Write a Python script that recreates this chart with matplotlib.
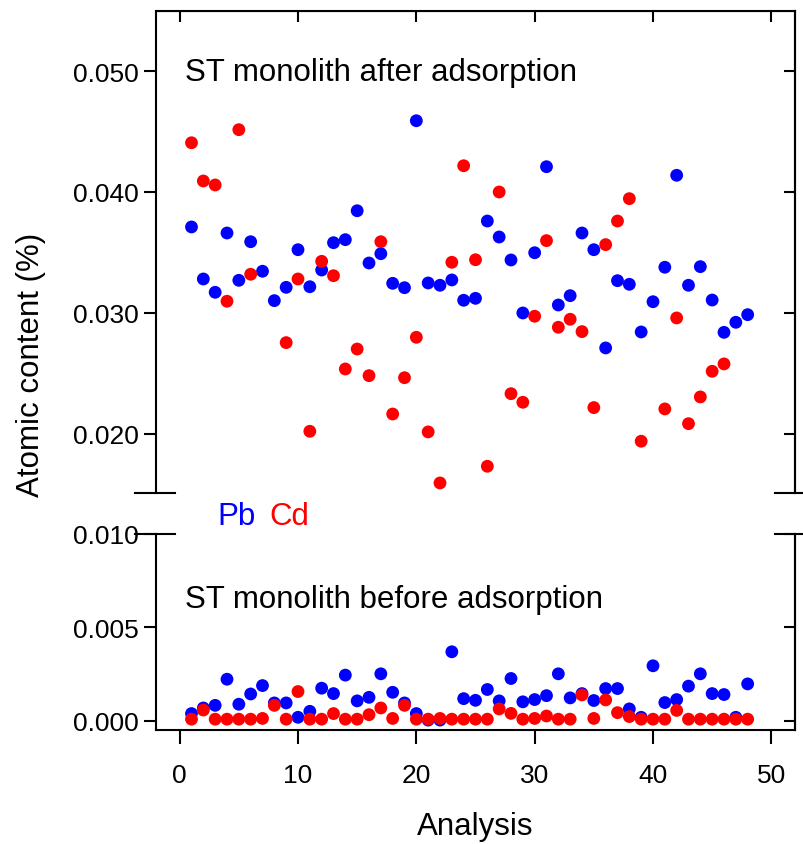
import numpy as np
import matplotlib
matplotlib.use("Agg")
import matplotlib.pyplot as plt
from matplotlib.lines import Line2D

plt.rcParams["font.family"] = ["Liberation Sans", "DejaVu Sans"]

analysis = np.arange(1, 49)

pb_after = [0.03711, 0.03281, 0.03171, 0.03661, 0.03270, 0.03589, 0.03345, 0.03102,
            0.03212, 0.03523, 0.03217, 0.03355, 0.03581, 0.03606, 0.03845, 0.03413,
            0.03490, 0.03245, 0.03209, 0.04589, 0.03248, 0.03229, 0.03273, 0.03105,
            0.03121, 0.03760, 0.03628, 0.03438, 0.03000, 0.03498, 0.04209, 0.03066,
            0.03143, 0.03661, 0.03523, 0.02711, 0.03267, 0.03237, 0.02843, 0.03093,
            0.03378, 0.04138, 0.03229, 0.03383, 0.03107, 0.02840, 0.02923, 0.02986]

cd_after = [0.04407, 0.04091, 0.04058, 0.03097, 0.04515, 0.03320, np.nan, np.nan,
            0.02755, 0.03281, 0.02022, 0.03427, 0.03308, 0.02537, 0.02702, 0.02482,
            0.03589, 0.02165, 0.02465, 0.02799, 0.02017, 0.01595, 0.03419, 0.04217,
            0.03440, 0.01733, 0.04000, 0.02333, 0.02262, 0.02973, 0.03598, 0.02882,
            0.02948, 0.02846, 0.02218, 0.03565, 0.03760, 0.03945, 0.01940, np.nan,
            0.02207, 0.02959, 0.02085, 0.02306, 0.02518, 0.02579, np.nan, np.nan]

pb_before = [0.00038, 0.00068, 0.00082, 0.00222, 0.00088, 0.00143, 0.00188, 0.00095,
             0.00095, 0.00018, 0.00050, 0.00174, 0.00145, 0.00244, 0.00106, 0.00125,
             0.00251, 0.00152, 0.00095, 0.00038, 0.00003, 0.00003, 0.00369, 0.00118,
             0.00109, 0.00167, 0.00106, 0.00226, 0.00101, 0.00113, 0.00134, 0.00251,
             0.00122, 0.00145, 0.00108, 0.00172, 0.00172, 0.00063, 0.00018, 0.00294,
             0.00097, 0.00113, 0.00185, 0.00251, 0.00145, 0.00140, 0.00018, 0.00197]

cd_before = [0.00008, 0.00057, 0.00008, 0.00008, 0.00008, 0.00008, 0.00012, 0.00082,
             0.00008, 0.00156, 0.00008, 0.00008, 0.00038, 0.00008, 0.00008, 0.00032,
             0.00068, 0.00012, 0.00082, 0.00008, 0.00008, 0.00012, 0.00008, 0.00008,
             0.00008, 0.00008, 0.00063, 0.00039, 0.00008, 0.00012, 0.00025, 0.00008,
             0.00008, 0.00138, 0.00012, 0.00111, 0.00043, 0.00022, 0.00008, 0.00008,
             0.00008, 0.00055, 0.00008, 0.00008, 0.00008, 0.00008, 0.00008, 0.00008]

W, H = 804, 845
fig = plt.figure(figsize=(W / 100, H / 100), dpi=100)

left, right = 156 / W, 795 / W
ax_top = fig.add_axes([left, 1 - 494 / H, right - left, (494 - 12) / H])
ax_bot = fig.add_axes([left, 1 - 731 / H, right - left, (731 - 535) / H])

msize = 85
lw = 1.5
tick_fs = 19
for ax in (ax_top, ax_bot):
    for s in ax.spines.values():
        s.set_linewidth(lw)
    ax.set_xlim(-2, 52)
    ax.set_xticks([0, 10, 20, 30, 40, 50])

ax_top.scatter(analysis, pb_after, s=msize, color="#0000ff", edgecolors="none", zorder=3)
ax_top.scatter(analysis, cd_after, s=msize, color="#ff0000", edgecolors="none", zorder=4)
ax_bot.scatter(analysis, pb_before, s=msize, color="#0000ff", edgecolors="none", zorder=3)
ax_bot.scatter(analysis, cd_before, s=msize, color="#ff0000", edgecolors="none", zorder=4)

# top panel
ax_top.set_ylim(0.01512, 0.05496)
ax_top.set_yticks([0.020, 0.030, 0.040, 0.050])
ax_top.set_yticklabels(["0.020", "0.030", "0.040", "0.050"])
ax_top.spines["bottom"].set_visible(False)
ax_top.tick_params(axis="y", which="both", left=True, right=False, direction="out",
                   length=8.6, width=lw, labelsize=tick_fs, pad=4)
ax_top.tick_params(axis="x", bottom=False, labelbottom=False, top=False)
ax_top.secondary_xaxis("top").tick_params(direction="in", length=8, width=lw, labeltop=False)
sec = ax_top.secondary_yaxis("right")
sec.set_yticks([0.020, 0.030, 0.040, 0.050])
sec.tick_params(direction="in", length=8, width=lw, labelright=False)
sec.spines["right"].set_linewidth(lw)

# bottom panel
ax_bot.set_ylim(-0.0005, 0.010)
ax_bot.set_yticks([0.000, 0.005, 0.010])
ax_bot.set_yticklabels(["0.000", "0.005", "0.010"])
ax_bot.spines["top"].set_visible(False)
ax_bot.tick_params(axis="y", left=True, right=False, direction="out",
                   length=8.6, width=lw, labelsize=tick_fs, pad=4)
ax_bot.tick_params(axis="x", direction="out", length=10, width=lw, labelsize=tick_fs, pad=14)
sec2 = ax_bot.secondary_yaxis("right")
sec2.set_yticks([0.000, 0.005, 0.010])
sec2.tick_params(direction="in", length=8, width=lw, labelright=False)
sec2.spines["right"].set_linewidth(lw)

# break marks
for yb in (494, 535):
    for xc in (155.5, 795):
        fig.add_artist(Line2D([(xc - 20) / W, (xc + 20) / W], [1 - yb / H, 1 - yb / H],
                              color="black", lw=lw, transform=fig.transFigure))

fig.text(185 / W, 1 - 73 / H, "ST monolith after adsorption", fontsize=22.5, va="center")
fig.text(185 / W, 1 - 600 / H, "ST monolith before adsorption", fontsize=22.5, va="center")
fig.text(217 / W, 1 - 517 / H, "Pb", fontsize=22.5, color="#0000ff", va="center")
fig.text(269 / W, 1 - 517 / H, "Cd", fontsize=22.5, color="#ff0000", va="center")

fig.text(475.5 / W, 1 - 827 / H, "Analysis", fontsize=22.5, ha="center", va="center")
fig.text(31 / W, 1 - 365 / H, "Atomic content (%)", fontsize=22.5, rotation=90,
         ha="center", va="center")

fig.savefig("out.png", dpi=100)
